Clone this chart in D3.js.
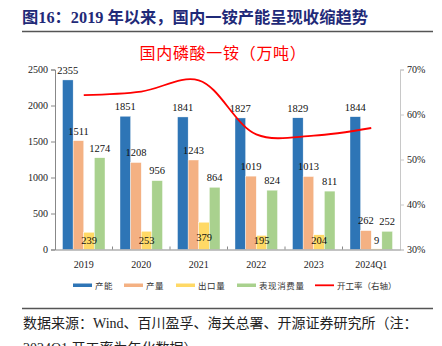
<!DOCTYPE html>
<html><head><meta charset="utf-8">
<script src="https://cdn.jsdelivr.net/npm/d3@7"></script>
<style>
html,body{margin:0;padding:0;background:#fff;}
svg{display:block;}
</style></head>
<body>
<script>
const categories = ["2019","2020","2021","2022","2023","2024Q1"];
const capacity = [2355,1851,1841,1827,1829,1844];
const production = [1511,1208,1243,1019,1013,262];
const exportsQ = [239,253,379,195,204,9];
const consumption = [1274,956,864,824,811,252];
const utilization = [64.3,65.1,67.6,55.6,55.3,57.0];
const leftTicks = [0,500,1000,1500,2000,2500];
const rightTicks = [30,40,50,60,70];
const seriesNames = ["产能","产量","出口量","表现消费量"];
const lineName = "开工率（右轴）";

const colors = ["#2e75b6","#f4b183","#ffd966","#a9d18e"];
const W = 442, H = 346;
const svg = d3.select("body").append("svg").attr("width",W).attr("height",H);
const serif = "'Liberation Serif','Noto Sans CJK SC',serif";

// header
svg.append("text").attr("x",22).attr("y",23).attr("font-family",serif)
  .attr("font-weight","bold").attr("font-size",16.3).attr("fill","#1f2a78")
  .text("图16：2019 年以来，国内一铵产能呈现收缩趋势");
svg.append("line").attr("x1",22).attr("x2",433).attr("y1",31.5).attr("y2",31.5)
  .attr("stroke","#555").attr("stroke-width",1.3);
svg.append("text").attr("x",223).attr("y",59).attr("text-anchor","middle")
  .attr("font-family","'Noto Sans CJK SC',sans-serif").attr("font-size",16)
  .attr("letter-spacing",0.7).attr("fill","#ff0000").text("国内磷酸一铵（万吨）");

const x0 = d3.scaleBand().domain(categories).range([55,400]).padding(0);
const x1 = d3.scaleBand().domain(d3.range(4)).range([7.5,50]).padding(0);
const yL = d3.scaleLinear().domain([0,2500]).range([249.5,69.5]);
const yR = d3.scaleLinear().domain([30,70]).range([249.5,69.5]);

const series = [capacity,production,exportsQ,consumption];

// bars
const g = svg.append("g");
series.forEach((arr,si)=>{
  g.selectAll(".b"+si).data(arr).enter().append("rect")
    .attr("x",(d,i)=>x0(categories[i])+x1(si))
    .attr("width",x1.bandwidth())
    .attr("y",d=>yL(d))
    .attr("height",d=>yL(0)-yL(d))
    .attr("fill",colors[si])
    .attr("stroke","#fff").attr("stroke-width",0.4);
});

// labels
series.forEach((arr,si)=>{
  g.selectAll(".l"+si).data(arr).enter().append("text")
    .attr("x",(d,i)=>x0(categories[i])+x1(si)+x1.bandwidth()/2)
    .attr("y",d=>{
      if(si===2){ return Math.min(240, yL(d)+14.5)+3.8; }
      return yL(d)-10+3.8;
    })
    .attr("text-anchor","middle").attr("font-family",serif).attr("font-size",10.5)
    .attr("fill","#111").text(d=>d);
});

// axes
const axL = svg.append("g").attr("transform","translate(55,0)")
  .call(d3.axisLeft(yL).tickValues(leftTicks).tickSize(4).tickPadding(3).tickFormat(d=>d));
const axR = svg.append("g").attr("transform","translate(400,0)")
  .call(d3.axisRight(yR).tickValues(rightTicks).tickSize(4).tickPadding(3).tickFormat(d=>d+"%"));
const axB = svg.append("g").attr("transform","translate(0,249.5)")
  .call(d3.axisBottom(x0).tickSize(0).tickPadding(11));
[axL,axR,axB].forEach(a=>{
  a.selectAll("text").attr("font-family",serif).attr("font-size",10).attr("fill","#222");
});
axL.selectAll("path,line").attr("stroke","#888");
axR.selectAll("path,line").attr("stroke","#c8c8c8");
axB.select("path").attr("stroke","#888");
// x ticks at band boundaries
const bounds = categories.slice(1).map(c=>x0(c));
svg.append("g").selectAll("line").data(bounds).enter().append("line")
  .attr("x1",d=>d).attr("x2",d=>d).attr("y1",249.5).attr("y2",246.5)
  .attr("stroke","#888");

// line
const line = d3.line().x((d,i)=>x0(categories[i])+x0.bandwidth()/2).y(d=>yR(d))
  .curve(d3.curveCatmullRom.alpha(0.5));
svg.append("path").datum(utilization).attr("d",line).attr("fill","none")
  .attr("stroke","#ff0000").attr("stroke-width",1.8);

// legend
const legX = [73,124,176,237];
const lg = svg.append("g");
seriesNames.forEach((n,i)=>{
  lg.append("rect").attr("x",legX[i]).attr("y",283.5).attr("width",19).attr("height",3.5).attr("fill",colors[i]);
  lg.append("text").attr("x",legX[i]+22).attr("y",288.5).attr("font-family","'Noto Sans CJK SC',sans-serif")
    .attr("font-size",8.5).attr("letter-spacing",0.6).attr("fill","#333").text(n);
});
lg.append("line").attr("x1",315).attr("x2",334).attr("y1",285.3).attr("y2",285.3)
  .attr("stroke","#ff0000").attr("stroke-width",1.8);
lg.append("text").attr("x",337).attr("y",288.5).attr("font-family","'Noto Sans CJK SC',sans-serif")
  .attr("font-size",8.5).attr("letter-spacing",0).attr("fill","#333").text(lineName);

// footer
svg.append("line").attr("x1",22).attr("x2",433).attr("y1",308.5).attr("y2",308.5)
  .attr("stroke","#555").attr("stroke-width",1.3);
svg.append("text").attr("x",23).attr("y",328).attr("font-family",serif)
  .attr("font-size",14).attr("fill","#222")
  .text("数据来源：Wind、百川盈孚、海关总署、开源证券研究所（注：");
svg.append("text").attr("x",23).attr("y",353).attr("font-family",serif)
  .attr("font-size",14).attr("fill","#222")
  .text("2024Q1 开工率为年化数据）");
</script>
</body></html>
